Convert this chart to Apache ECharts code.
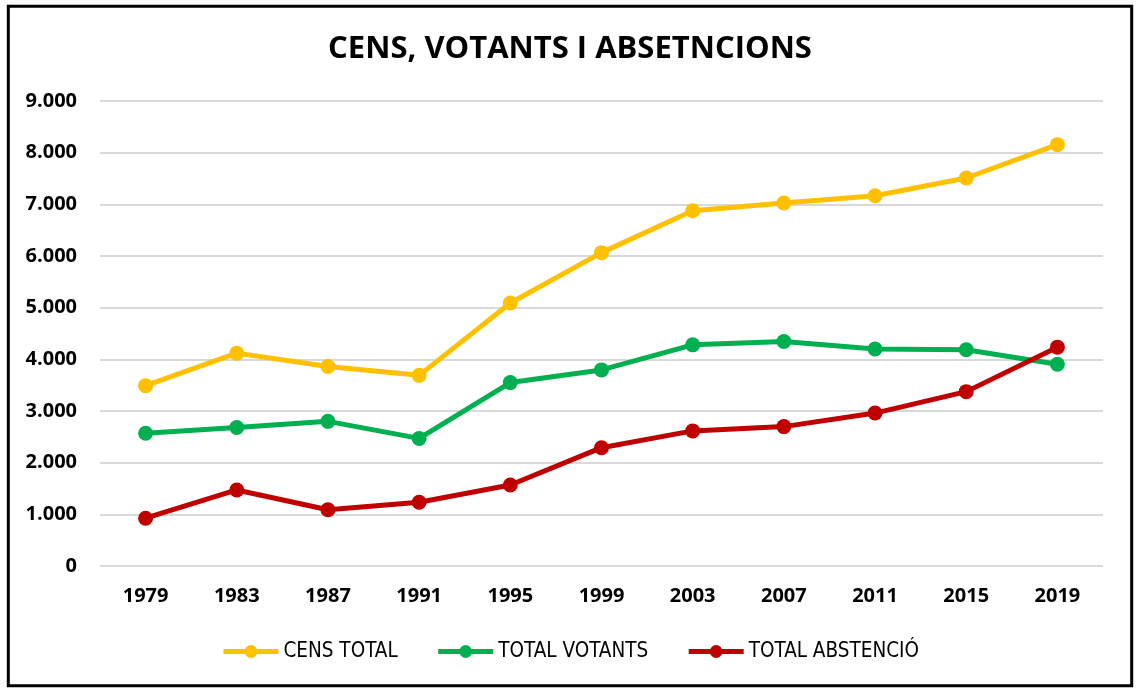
<!DOCTYPE html>
<html>
<head>
<meta charset="utf-8">
<script src="https://cdn.jsdelivr.net/npm/echarts@6/dist/echarts.min.js"></script>
<style>
html,body{margin:0;padding:0;background:#fff;}
#chart{width:1140px;height:695px;}
</style>
</head>
<body>
<div id="chart"></div>
<script>
const years = ['1979','1983','1987','1991','1995','1999','2003','2007','2011','2015','2019'];
const censTotal = [3490, 4120, 3860, 3690, 5090, 6065, 6875, 7025, 7165, 7510, 8155];
const totalVotants = [2570, 2680, 2800, 2470, 3550, 3795, 4280, 4345, 4200, 4185, 3905];
const totalAbstencio = [925, 1472, 1088, 1235, 1568, 2290, 2615, 2698, 2960, 3375, 4236];
const seriesNames = ['CENS TOTAL', 'TOTAL VOTANTS', 'TOTAL ABSTENCIÓ'];
const seriesColors = ['#FFC000', '#00B050', '#C00000'];

function fmt(v){
  const s = String(Math.round(v));
  return s.replace(/\B(?=(\d{3})+(?!\d))/g, '.');
}

const chart = echarts.init(document.getElementById('chart'));
const data = [censTotal, totalVotants, totalAbstencio];
chart.setOption({
  backgroundColor: '#fff',
  animation: false,
  title: {
    text: 'CENS, VOTANTS I ABSETNCIONS',
    left: 'center',
    top: 29,
    textStyle: {fontFamily: 'Open Sans', fontWeight: 'bold', fontSize: 31, color: '#000'}
  },
  legend: {
    data: seriesNames,
    left: 'center',
    top: 636,
    itemWidth: 55,
    itemHeight: 16,
    itemGap: 38,
    lineStyle: {width: 5},
    textStyle: {fontFamily: '"DejaVu Sans Condensed", "Liberation Sans", sans-serif', fontSize: 20.5, color: '#000'}
  },
  grid: {left: 100, right: 37, top: 101, bottom: 129},
  xAxis: {
    type: 'category',
    data: years,
    boundaryGap: true,
    axisLine: {show: false},
    axisTick: {show: false},
    axisLabel: {fontFamily: 'Open Sans', fontWeight: 'bold', fontSize: 20, color: '#000', margin: 20}
  },
  yAxis: {
    type: 'value',
    min: 0,
    max: 9000,
    interval: 1000,
    axisLine: {show: false},
    axisTick: {show: false},
    splitLine: {lineStyle: {color: '#D9D9D9', width: 2}},
    axisLabel: {fontFamily: 'Open Sans', fontWeight: 'bold', fontSize: 20, color: '#000', margin: 23, formatter: fmt}
  },
  series: seriesNames.map((n, i) => ({
    name: n,
    type: 'line',
    data: data[i],
    symbol: 'circle',
    symbolSize: 15,
    lineStyle: {width: 5, color: seriesColors[i]},
    itemStyle: {color: seriesColors[i]},
    z: 3 + i
  })),
  graphic: [{
    type: 'rect',
    shape: {x: 8.3, y: 6.2, width: 1123.4, height: 679.5},
    style: {fill: 'none', stroke: '#000', lineWidth: 3},
    silent: true
  }]
});
</script>
</body>
</html>
